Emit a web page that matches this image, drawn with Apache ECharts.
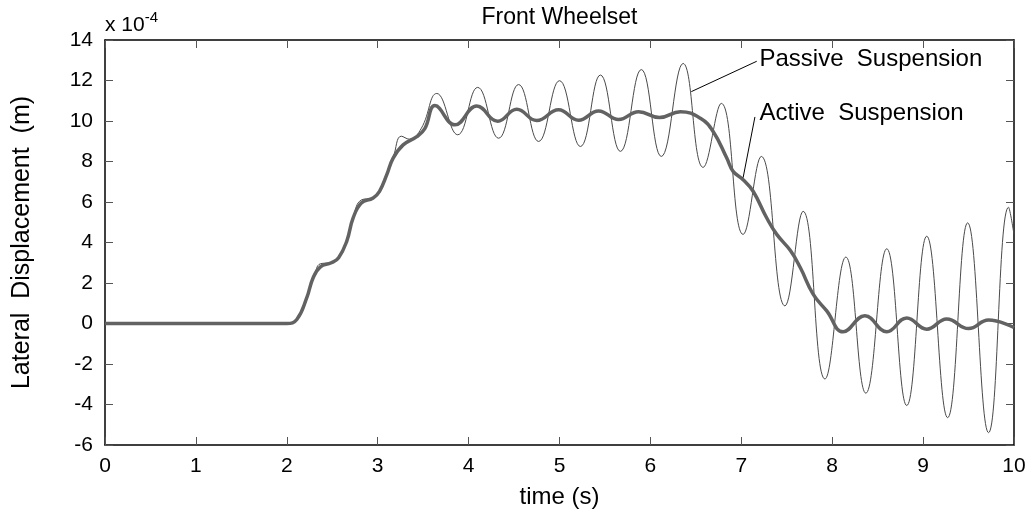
<!DOCTYPE html>
<html>
<head>
<meta charset="utf-8">
<script src="https://cdn.jsdelivr.net/npm/echarts@6/dist/echarts.min.js"></script>
<style>
  html, body { margin: 0; padding: 0; background: #fff; }
  #chart { width: 1029px; height: 514px; }
</style>
</head>
<body>
<div id="chart"></div>
<script>
// time axis ticks and y ticks (values in units of 1e-4 m)
const xTicks = [0, 1, 2, 3, 4, 5, 6, 7, 8, 9, 10];
const yTicks = [-6, -4, -2, 0, 2, 4, 6, 8, 10, 12, 14];

const passiveT = [0, 2.0, 2.11, 2.22, 2.3, 2.37, 2.49, 2.57, 2.66, 2.73, 2.82, 2.95, 3.02, 3.1, 3.17, 3.26, 3.35, 3.48, 3.65,
  3.88, 4.1, 4.33, 4.55, 4.77, 5.0, 5.23, 5.45, 5.67, 5.9, 6.12, 6.36, 6.58, 6.78, 7.02, 7.22, 7.48, 7.68,
  7.92, 8.15, 8.37, 8.6, 8.82, 9.04, 9.27, 9.49, 9.72, 9.94, 10];
const passiveV = [0, 0, 0.2, 1.3, 2.3, 2.95, 3.0, 3.25, 4.1, 5.25, 6.1, 6.2, 6.55, 7.4, 8.2, 9.25, 9.1, 9.64, 11.36,
  9.32, 11.66, 9.15, 11.8, 8.99, 11.99, 8.74, 12.27, 8.5, 12.54, 8.25, 12.84, 7.71, 10.87, 4.4, 8.25, 0.87, 5.54,
  -2.74, 3.28, -3.44, 3.69, -4.05, 4.31, -4.65, 4.97, -5.39, 5.74, 4.4];

const activeT = [0, 2.0, 2.11, 2.22, 2.29, 2.37, 2.49, 2.57, 2.66, 2.73, 2.82, 2.95, 3.02, 3.1, 3.17, 3.28, 3.43, 3.52, 3.63,
  3.85, 4.09, 4.32, 4.53, 4.75, 4.99, 5.21, 5.43, 5.65, 5.87, 6.1, 6.33, 6.55, 6.69, 6.84, 6.91, 7.02, 7.13,
  7.28, 7.39, 7.54, 7.65, 7.79, 7.94, 8.12, 8.36, 8.6, 8.82, 9.04, 9.26, 9.5, 9.72, 10];
const activeV = [0, 0, 0.2, 1.28, 2.26, 2.8, 3.0, 3.25, 4.07, 5.21, 5.95, 6.2, 6.53, 7.35, 8.17, 8.82, 9.23, 9.64, 10.76,
  9.81, 10.74, 9.99, 10.58, 10.02, 10.55, 10.04, 10.5, 10.07, 10.46, 10.17, 10.46, 10.13, 9.48, 8.17, 7.51, 7.1, 6.53,
  5.21, 4.4, 3.6, 2.75, 1.45, 0.62, -0.41, 0.38, -0.41, 0.27, -0.28, 0.22, -0.25, 0.17, -0.2];

// annotation: label anchor and leader line end, in data units
const passiveLabel = { text: 'Passive  Suspension', at: [7.2, 13.06], line: [[7.17, 12.95], [6.45, 11.45]] };
const activeLabel = { text: 'Active  Suspension', at: [7.2, 10.4], line: [[7.15, 10.2], [7.02, 7.2]] };

const FONT = "'Liberation Sans', Arial, sans-serif";
const zip = (t, v) => t.map((x, i) => [x, v[i]]);

const chart = echarts.init(document.getElementById('chart'));

const tickStyle = { show: true, inside: true, length: 8, lineStyle: { color: '#555', width: 1 } };
const axisLine = { show: true, onZero: false, lineStyle: { color: '#000', width: 1.5 } };

const option = {
  backgroundColor: '#fff',
  animation: false,
  grid: { left: 105, right: 15, top: 40, bottom: 68, containLabel: false },
  xAxis: [
    {
      type: 'value', min: xTicks[0], max: xTicks[xTicks.length - 1], interval: 1,
      name: 'time (s)', nameLocation: 'middle', nameGap: 40,
      nameTextStyle: { fontFamily: FONT, fontSize: 24, color: '#000' },
      axisLine, axisTick: tickStyle, splitLine: { show: false },
      axisLabel: { fontFamily: FONT, fontSize: 21, color: '#000', margin: 11 }
    },
    {
      type: 'value', position: 'top', min: xTicks[0], max: xTicks[xTicks.length - 1], interval: 1,
      axisLine, axisTick: tickStyle, splitLine: { show: false }, axisLabel: { show: false }
    }
  ],
  yAxis: [
    {
      type: 'value', min: yTicks[0], max: yTicks[yTicks.length - 1], interval: 2,
      name: 'Lateral  Displacement  (m)', nameLocation: 'middle', nameGap: 70,
      nameTextStyle: { fontFamily: FONT, fontSize: 25, color: '#000' },
      axisLine, axisTick: tickStyle, splitLine: { show: false },
      axisLabel: { fontFamily: FONT, fontSize: 21, color: '#000', margin: 12 }
    },
    {
      type: 'value', position: 'right', min: yTicks[0], max: yTicks[yTicks.length - 1], interval: 2,
      axisLine, axisTick: tickStyle, splitLine: { show: false }, axisLabel: { show: false }
    }
  ],
  series: [
    {
      name: 'Passive Suspension', type: 'line', data: zip(passiveT, passiveV),
      smooth: 0.45, showSymbol: false, z: 2,
      lineStyle: { color: '#4a4a4a', width: 1 },
      markLine: {
        silent: true, symbol: 'none', label: { show: false },
        lineStyle: { color: '#000', width: 1, type: 'solid' },
        data: [[{ coord: passiveLabel.line[0] }, { coord: passiveLabel.line[1] }]]
      }
    },
    {
      name: 'Active Suspension', type: 'line', data: zip(activeT, activeV),
      smooth: 0.45, showSymbol: false, z: 3,
      lineStyle: { color: '#626262', width: 3.5 },
      markLine: {
        silent: true, symbol: 'none', label: { show: false },
        lineStyle: { color: '#000', width: 1, type: 'solid' },
        data: [[{ coord: activeLabel.line[0] }, { coord: activeLabel.line[1] }]]
      }
    }
  ]
};
chart.setOption(option);

// texts placed from data / grid coordinates
const p1 = chart.convertToPixel({ gridIndex: 0 }, passiveLabel.at);
const p2 = chart.convertToPixel({ gridIndex: 0 }, activeLabel.at);
const topLeft = chart.convertToPixel({ gridIndex: 0 }, [xTicks[0], yTicks[yTicks.length - 1]]);
const topRight = chart.convertToPixel({ gridIndex: 0 }, [xTicks[xTicks.length - 1], yTicks[yTicks.length - 1]]);

chart.setOption({
  graphic: [
    {
      type: 'text', x: (topLeft[0] + topRight[0]) / 2, y: 18,
      style: { text: 'Front Wheelset', font: '23px ' + FONT, fill: '#000', textAlign: 'center', textVerticalAlign: 'middle' }
    },
    {
      type: 'text', x: topLeft[0], y: topLeft[1] - 4,
      style: {
        text: '{a|x 10}{b|-4}',
        textVerticalAlign: 'bottom',
        rich: {
          a: { font: '21px ' + FONT, fill: '#000', verticalAlign: 'bottom' },
          b: { font: '15px ' + FONT, fill: '#000', verticalAlign: 'top', padding: [0, 0, 11, 0] }
        }
      }
    },
    {
      type: 'text', x: p1[0], y: p1[1],
      style: { text: passiveLabel.text, font: '24px ' + FONT, fill: '#000', textVerticalAlign: 'middle' }
    },
    {
      type: 'text', x: p2[0], y: p2[1],
      style: { text: activeLabel.text, font: '24px ' + FONT, fill: '#000', textVerticalAlign: 'middle' }
    }
  ]
});
</script>
</body>
</html>
